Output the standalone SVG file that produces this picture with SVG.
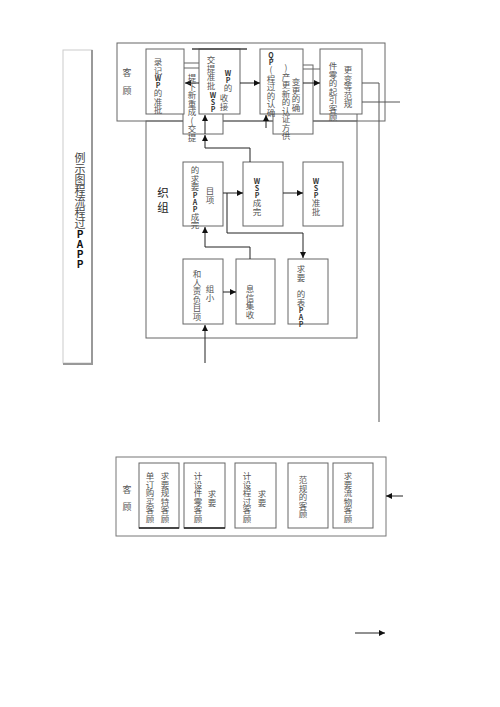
<svg xmlns="http://www.w3.org/2000/svg" width="500" height="707" viewBox="0 0 500 707">
<defs>
<marker id="ah" markerWidth="6" markerHeight="6" refX="6" refY="3" orient="auto" markerUnits="userSpaceOnUse"><path d="M0,0 L6,3 L0,6 z" fill="#111"/></marker>
<style>
.box{fill:#fff;stroke:#666;stroke-width:1}
.ln{fill:none;stroke:#555;stroke-width:1}
.ar{fill:none;stroke:#222;stroke-width:1;marker-end:url(#ah)}
.v{font-family:"Noto Sans CJK SC","Noto Sans",sans-serif;font-size:8.5px;fill:#555;writing-mode:vertical-rl;text-orientation:upright}
.vb{font-weight:bold;fill:#333;font-size:7px}
.h{font-family:"Noto Sans CJK SC","Noto Sans",sans-serif;font-size:9px;fill:#555;text-anchor:middle}
.title{font-family:"Noto Sans CJK SC","Noto Sans",sans-serif;font-size:11px;fill:#444;writing-mode:vertical-rl;text-orientation:upright}
</style>
</defs>
<rect width="500" height="707" fill="#fff"/>

<g id="title">
<rect x="63" y="50" width="29" height="313" fill="#fff" stroke="#ccc"/>
<path d="M92,50 V364 H63" fill="none" stroke="#999" stroke-width="2"/>
<text class="title" x="80" y="152">例示图程流程过<tspan font-weight="bold" font-size="10px" fill="#111">PAPP</tspan></text>
</g>

<g id="customer-top">
<rect x="117" y="43" width="268" height="78" fill="#fff" stroke="#666"/>
<text class="h" x="127" y="76">客</text>
<text class="h" x="127" y="94">顾</text>
</g>

<g id="org">
<rect x="146" y="121" width="211" height="217" fill="none" stroke="#666"/>
<line x1="357" y1="114" x2="357" y2="121" stroke="#666"/>
<text x="163" y="197" font-family="'Noto Sans CJK SC',sans-serif" font-size="11.5px" fill="#222" text-anchor="middle">织</text>
<text x="163" y="212" font-family="'Noto Sans CJK SC',sans-serif" font-size="11.5px" fill="#222" text-anchor="middle">组</text>
</g>

<g id="hidden1"><rect class="box" x="183" y="63" width="40" height="71"/><line x1="184" y1="68" x2="199" y2="68" stroke="#666"/></g>
<g id="hidden2"><rect class="box" x="273" y="65" width="40" height="69"/><line x1="303" y1="69" x2="320" y2="69" stroke="#666"/></g>

<g id="nodeA"><rect class="box" x="146" y="49" width="38" height="65"/></g>
<g id="nodeB"><rect class="box" x="199" y="49" width="41" height="65"/><line x1="192" y1="49" x2="247" y2="49" stroke="#444" stroke-width="1.5"/></g>
<g id="nodeC"><rect class="box" x="260" y="49" width="43" height="65"/></g>
<g id="nodeD"><rect class="box" x="320" y="49" width="42" height="65"/></g>

<g id="nodeE"><rect class="box" x="183" y="162" width="40" height="64"/></g>
<g id="nodeF"><rect class="box" x="243" y="162" width="40" height="64"/></g>
<g id="nodeG"><rect class="box" x="303" y="162" width="40" height="64"/></g>
<g id="nodeH"><rect class="box" x="183" y="259" width="40" height="65"/></g>
<g id="nodeI"><rect class="box" x="236" y="259" width="39" height="65"/></g>
<g id="nodeJ"><rect class="box" x="288" y="259" width="40" height="65"/></g>

<g id="customer-bottom">
<rect x="116" y="457" width="270" height="79" fill="#fff" stroke="#777"/>
<text class="h" x="127" y="493">客</text>
<text class="h" x="127" y="510">顾</text>
</g>
<g id="nodeK"><rect class="box" x="139" y="463" width="40" height="65"/><line x1="139" y1="528" x2="179" y2="528" stroke="#222" stroke-width="1.5"/></g>
<g id="nodeL"><rect class="box" x="184" y="463" width="41" height="65"/><line x1="184" y1="528" x2="225" y2="528" stroke="#222" stroke-width="1.5"/></g>
<g id="nodeM"><rect class="box" x="235" y="463" width="41" height="65"/></g>
<g id="nodeN"><rect class="box" x="288" y="463" width="40" height="65"/></g>
<g id="nodeO"><rect class="box" x="333" y="463" width="40" height="65"/></g>

<g id="connectors">
<line class="ar" x1="199" y1="83" x2="185" y2="83"/>
<line class="ar" x1="240" y1="83" x2="260" y2="83"/>
<line class="ar" x1="303" y1="83" x2="320" y2="83"/>
<polyline class="ln" points="362,83 379,83 379,422"/>
<line class="ln" x1="362" y1="102" x2="400" y2="102"/>
<polyline class="ar" points="250,162 250,148 205,148 205,135"/>
<line class="ar" x1="205" y1="134" x2="205" y2="115"/>
<line class="ar" x1="266" y1="128" x2="266" y2="115"/>
<line class="ar" x1="223" y1="193" x2="243" y2="193"/>
<line class="ar" x1="283" y1="193" x2="303" y2="193"/>
<polyline class="ar" points="227,193 227,233 303,233 303,258"/>
<line class="ar" x1="223" y1="292" x2="236" y2="292"/>
<polyline class="ar" points="250,259 250,247 205,247 205,227"/>
<line class="ar" x1="205" y1="363" x2="205" y2="325"/>
<line class="ar" x1="403" y1="496" x2="386" y2="496"/>
<line class="ar" x1="355" y1="633" x2="385" y2="633"/>
</g>

<g id="labels">
<text class="v" x="158" y="58">录记<tspan class="vb">WP</tspan>的准批</text>
<text class="v" x="192" y="74">提下新重成(交提</text>
<text class="v" x="211" y="56">交提准批</text>
<text class="v" x="228" y="70"><tspan class="vb">WP</tspan>的</text>
<text class="v" x="213" y="92"><tspan class="vb">WSP</tspan></text>
<text class="v" x="224" y="94">收接</text>
<text class="v" x="271" y="52"><tspan class="vb">QP</tspan>(程过的认确</text>
<text class="v" x="286" y="64">)产更新的认证方供</text>
<text class="v" x="296" y="78">变更的确</text>
<text class="v" x="333" y="62">件零的起引客顾</text>
<text class="v" x="348" y="66">更变等范规</text>
<text class="v" x="195" y="166">的求要<tspan class="vb">PAP</tspan>成完</text>
<text class="v" x="210" y="187">目项</text>
<text class="v" x="257" y="178"><tspan class="vb">WSP</tspan>成完</text>
<text class="v" x="316" y="178"><tspan class="vb">WSP</tspan>准批</text>
<text class="v" x="197" y="270">和人责负目项</text>
<text class="v" x="210" y="285">组小</text>
<text class="v" x="250" y="285">息信集收</text>
<text class="v" x="301" y="265">求要</text>
<text class="v" x="301" y="290">的表<tspan class="vb">PAP</tspan></text>
<text class="v" x="150" y="472">单订购买客顾</text>
<text class="v" x="165" y="472">求要规特客顾</text>
<text class="v" x="198" y="472">计设件零客顾</text>
<text class="v" x="212" y="490">求要</text>
<text class="v" x="247" y="472">计设程过客顾</text>
<text class="v" x="262" y="490">求要</text>
<text class="v" x="303" y="476">范规的客顾</text>
<text class="v" x="348" y="472">求要流物客顾</text>
</g>
</svg>
